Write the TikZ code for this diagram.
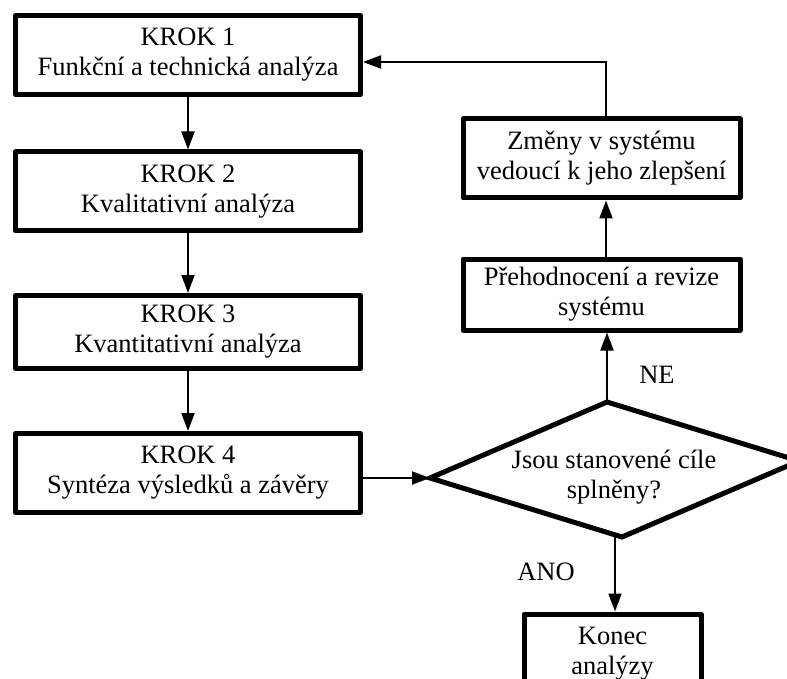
\documentclass[tikz,border=0pt]{standalone}
\usepackage{fontspec}
\setmainfont{Liberation Serif}
\usetikzlibrary{arrows.meta}
\begin{document}
\begin{tikzpicture}[x=1pt,y=-1pt,
  txt/.style={font=\fontsize{26.5}{30}\selectfont},
  box/.style={draw, rectangle, line width=5pt, line join=round, inner sep=0pt, align=center, txt},
  conn/.style={line width=2pt, -{Triangle[length=18pt,width=13pt]}},
  lbl/.style={txt, inner sep=0pt, anchor=base}]
\useasboundingbox (0,0) rectangle (787,679);
\fill[white] (0,0) rectangle (787,679);
% left column
\node[box, minimum width=345pt, minimum height=79pt] (b1) at (188,55) {KROK 1\\Funkční a technická analýza};
\node[box, minimum width=345pt, minimum height=79pt] (b2) at (188,191.5) {KROK 2\\Kvalitativní analýza};
\node[box, minimum width=345pt, minimum height=73pt] (b3) at (188,332) {KROK 3\\Kvantitativní analýza};
\node[box, minimum width=345pt, minimum height=79pt] (b4) at (188,473) {KROK 4\\Syntéza výsledků a závěry};
% right column
\node[box, minimum width=277pt, minimum height=79pt] (zm) at (601.5,158.5) {Změny v systému\\vedoucí k jeho zlepšení};
\node[box, minimum width=277pt, minimum height=71pt] (pr) at (601.5,294.5) {Přehodnocení a revize\\systému};
\node[box, minimum width=177pt, minimum height=79pt] (ko) at (612.5,653.5) {Konec\\analýzy};
% decision
\coordinate (dT) at (607,402);
\coordinate (dR) at (799,461);
\coordinate (dB) at (622,537);
\coordinate (dL) at (430,478);
\coordinate (dA) at (615,534);
\draw[line width=5pt, line join=miter] (dT) -- (dR) -- (dB) -- (dL) -- cycle;
\node[txt, align=center, inner sep=0pt] (dq) at (614,477) {Jsou stanovené cíle\\splněny?};
% connectors
\draw[conn] (b1) -- (b2);
\draw[conn] (b2) -- (b3);
\draw[conn] (b3) -- (b4);
\draw[conn] (b4.east |- dL) -- (dL);
\draw[conn] (dT) -- (dT |- pr.south);
\coordinate (up) at (606,0);
\draw[conn] (up |- pr.north) -- (up |- zm.south);
\coordinate (fb) at (606,62);
\draw[conn] (up |- zm.north) -- (fb) -- (fb -| b1.east);
\draw[conn] (dA) -- (dA |- ko.north);
% labels
\node[lbl] (ne) at (657,383) {NE};
\node[lbl] (ano) at (546,580) {ANO};
\end{tikzpicture}
\end{document}
